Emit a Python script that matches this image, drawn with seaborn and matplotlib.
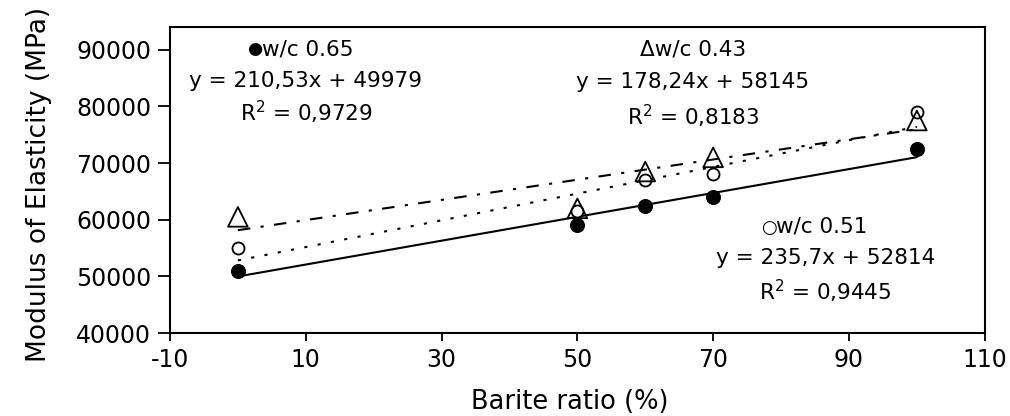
import matplotlib
matplotlib.use("Agg")
import matplotlib.pyplot as plt
import seaborn as sns
import numpy as np
import pandas as pd

sns.set_theme(style="white")
plt.rcParams['font.family'] = ['DejaVu Sans']
plt.rcParams['axes.unicode_minus'] = False
plt.rcParams['text.color'] = 'black'
plt.rcParams['axes.labelcolor'] = 'black'
plt.rcParams['xtick.color'] = 'black'
plt.rcParams['ytick.color'] = 'black'

barite = [0, 50, 60, 70, 100]
wc065 = [51000, 59000, 62500, 64000, 72500]
wc051 = [55000, 61500, 67000, 68000, 79000]
wc043 = [60500, 62000, 68500, 71000, 77500]

fits = {
    "w/c 0.65": (210.53, 49979, 0.9729),
    "w/c 0.51": (235.7, 52814, 0.9445),
    "w/c 0.43": (178.24, 58145, 0.8183),
}
fit_x = [0, 100]

fig = plt.figure(figsize=(10.10, 4.16), dpi=100)
ax = fig.add_axes([0.1683, 0.1995, 0.8067, 0.7355])

df = pd.DataFrame({"x": barite * 3,
                   "y": wc065 + wc051 + wc043,
                   "s": ["w/c 0.65"] * 5 + ["w/c 0.51"] * 5 + ["w/c 0.43"] * 5})

# regression lines
styles = {"w/c 0.65": "-", "w/c 0.51": (0, (1.5, 5)), "w/c 0.43": (0, (6, 5, 1.5, 5))}
for name, (a, b, r2) in fits.items():
    lx = np.array(fit_x, dtype=float)
    ly = a * lx + b
    sns.lineplot(x=lx, y=ly, ax=ax, color="black", lw=1.5, linestyle=styles[name],
                 legend=False)

sns.scatterplot(data=df[df.s == "w/c 0.65"], x="x", y="y", ax=ax, marker="o",
                color="black", edgecolor="black", s=100, zorder=5, legend=False)
sns.scatterplot(data=df[df.s == "w/c 0.51"], x="x", y="y", ax=ax, marker="o",
                facecolor="white", edgecolor="black", linewidth=1.3, s=75, zorder=5, legend=False)
sns.scatterplot(data=df[df.s == "w/c 0.43"], x="x", y="y", ax=ax, marker="^",
                facecolor="none", edgecolor="black", linewidth=1.3, s=200, zorder=5, legend=False)

ax.set_xlim(-10, 110)
ax.set_ylim(40000, 94000)
ax.set_xticks([-10, 10, 30, 50, 70, 90, 110])
ax.set_yticks([40000, 50000, 60000, 70000, 80000, 90000])
ax.tick_params(axis="both", direction="out", width=1.3, color="black",
               labelsize=17, left=True, bottom=True)
ax.tick_params(axis="y", length=9, pad=4.5)
ax.tick_params(axis="x", length=6, pad=5)
for sp in ax.spines.values():
    sp.set_color("black")
    sp.set_linewidth(1.5)
ax.set_xlabel("Barite ratio (%)", fontsize=18.5)
ax.set_ylabel("Modulus of Elasticity (MPa)", fontsize=19)
ax.xaxis.set_label_coords(0.491, -0.183)
ax.yaxis.set_label_coords(-0.145, 0.485)

fs = 15.5
# annotations (w/c 0.65)
ax.text(3.6, 90100, "\u25cf", ha="right", va="center", fontsize=12.5)
ax.text(3.6, 90100, "w/c 0.65", ha="left", va="center", fontsize=fs)
ax.text(9.9, 84400, "y = 210,53x + 49979", ha="center", va="center", fontsize=fs)
ax.text(10.0, 78900, "R$^2$ = 0,9729", ha="center", va="center", fontsize=fs)
# w/c 0.43
ax.text(67.0, 90100, "\u0394w/c 0.43", ha="center", va="center", fontsize=fs)
ax.text(67.0, 84300, "y = 178,24x + 58145", ha="center", va="center", fontsize=fs)
ax.text(67.0, 78300, "R$^2$ = 0,8183", ha="center", va="center", fontsize=fs)
# w/c 0.51
ax.text(79.3, 58600, "\u25cb", ha="right", va="center", fontsize=13)
ax.text(79.3, 58800, "w/c 0.51", ha="left", va="center", fontsize=fs)
ax.text(86.5, 53300, "y = 235,7x + 52814", ha="center", va="center", fontsize=fs)
ax.text(86.5, 47300, "R$^2$ = 0,9445", ha="center", va="center", fontsize=fs)

fig.savefig("out.png", dpi=100)
